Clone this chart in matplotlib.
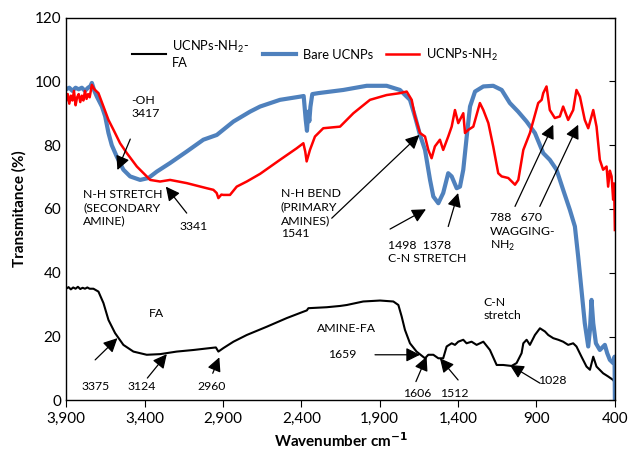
import matplotlib
matplotlib.use("Agg")
import matplotlib.pyplot as plt
from matplotlib.ticker import FuncFormatter

plt.rcParams['font.family'] = ['Lato', 'DejaVu Sans']
plt.rcParams['mathtext.fontset'] = 'custom'
plt.rcParams['mathtext.rm'] = 'Lato'

# UCNPs-NH2-FA (black)
black_wn = [3900, 3885, 3870, 3855, 3840, 3825, 3810, 3795, 3780, 3765, 3750, 3726, 3694, 3662,
            3630, 3588, 3535, 3471, 3386, 3301, 3195, 3088, 2982, 2945, 2929, 2897, 2833, 2748,
            2620, 2493, 2387, 2365, 2355, 2238, 2153, 2110, 2005, 1898, 1813, 1781, 1760, 1739,
            1707, 1665, 1611, 1590, 1558, 1526, 1495, 1473, 1441, 1420, 1399, 1367, 1346, 1314,
            1282, 1239, 1197, 1154, 1112, 1059, 1027, 995, 984, 963, 942, 910, 878, 846, 825,
            793, 761, 730, 698, 666, 645, 613, 581, 559, 538, 517, 475, 443, 411, 400]
black_t = [35, 35.5, 34.8, 35.4, 35, 35.6, 34.9, 35.3, 35, 35.4, 35, 35, 34.1, 30.5,
           25.2, 21.1, 17.4, 15.3, 14.3, 14.5, 15.3, 15.8, 16.4, 16.6, 15.3, 16.4, 18.4, 20.5,
           23.1, 25.8, 27.8, 28.2, 28.9, 29.2, 29.6, 29.9, 31, 31.3, 31, 29.9, 26.3, 22.1,
           17.9, 15.3, 13.2, 14.3, 14.3, 13.2, 13.2, 16.9, 17.9, 17.4, 18.4, 19, 17.9, 18.4,
           17.4, 18.4, 15.8, 11.1, 11.1, 10.8, 11.7, 14.8, 17.9, 19, 17.4, 20.5, 22.6, 21.6, 20.5,
           19.5, 19, 18.4, 17.4, 17.9, 16.9, 13.7, 10.6, 9.6, 13.7, 10.6, 8.5, 7.5, 6.4, 5.5]

# Bare UCNPs (blue)
blue_wn = [3900, 3880, 3860, 3840, 3820, 3800, 3780, 3760, 3745, 3736, 3720, 3704, 3672, 3651,
           3630, 3609, 3577, 3535, 3492, 3428, 3375, 3322, 3237, 3131, 3025, 2939, 2833, 2727,
           2663, 2536, 2408, 2385, 2372, 2364, 2356, 2349, 2342, 2330, 2292, 2132, 1983, 1856,
           1771, 1707, 1675, 1643, 1611, 1579, 1558, 1526, 1495, 1463, 1441, 1409, 1388, 1367,
           1345, 1324, 1292, 1239, 1176, 1122, 1070, 1017, 963, 910, 857, 815, 772, 730, 687,
           655, 634, 613, 592, 570, 559, 549, 538, 521, 496, 464, 449, 432, 411, 402, 400]
blue_t = [97.5, 98, 97, 98, 97.5, 98, 97, 98, 98.5, 99.5, 97, 95.2, 92.1, 89,
          83.8, 80, 76.4, 72.3, 70.2, 69.1, 69.7, 71.7, 74.4, 78, 81.7, 83.2, 87.4, 90.5,
          92.1, 94.2, 95.2, 95.4, 88, 84.5, 90.5, 87.5, 92, 96, 96.3, 97.3, 98.6, 98.6,
          97.3, 94.2, 89, 83.2, 78.5, 69.1, 63.9, 61.8, 65, 71.2, 70.2, 66.5, 67, 72.3,
          82.7, 92.1, 96.8, 98.4, 98.6, 97.3, 93.2, 90.5, 87.4, 83.8, 77.5, 75.4, 72.3, 66, 59.7,
          54.5, 45, 34.6, 24.2, 16.9, 22.1, 31.5, 24.2, 17.9, 15.8, 17.4, 14.8, 12.7, 11.7, 13.7, 0]

# UCNPs-NH2 (red)
red_wn = [3900, 3890, 3880, 3870, 3860, 3850, 3840, 3830, 3820, 3810, 3800, 3790, 3780, 3770,
          3760, 3750, 3736, 3720, 3694, 3662, 3630, 3598, 3556, 3513, 3449, 3386, 3364, 3301,
          3237, 3131, 3003, 2961, 2940, 2929, 2910, 2897, 2855, 2812, 2748, 2663, 2536, 2430,
          2387, 2375, 2366, 2345, 2313, 2260, 2153, 2068, 1962, 1856, 1771, 1728, 1696, 1675,
          1643, 1611, 1590, 1569, 1548, 1516, 1495, 1463, 1441, 1420, 1399, 1367, 1356, 1335,
          1303, 1261, 1239, 1207, 1176, 1144, 1122, 1080, 1037, 1016, 984, 942, 889, 867, 857,
          836, 815, 783, 751, 730, 698, 666, 645, 623, 592, 570, 538, 517, 496, 475, 453, 443,
          432, 421, 411, 405, 400]
red_t = [94, 96, 93, 95.5, 94, 97, 92.5, 95, 96, 93.5, 95.5, 94, 97, 94.5,
         96, 95, 98.9, 97.5, 96.3, 92.1, 87.9, 84.8, 80.6, 77.5, 73.3, 70.2, 69.1, 68.6,
         69.1, 68.1, 66.5, 66, 65, 63.4, 64.5, 64.4, 64.4, 67, 68.6, 71, 75.4, 79,
         80.6, 78, 74.9, 78.5, 82.7, 85.3, 85.8, 90, 94.2, 95.7, 96.3, 96.8, 94.2, 89,
         83.8, 82.7, 78.5, 75.9, 79.6, 81.7, 78.5, 82.7, 85.8, 91, 86.9, 90, 83.8, 84.8,
         85.8, 93.2, 91, 86.9, 79.6, 71.2, 70.2, 69.7, 67.6, 69.1, 78.5, 83.8, 93.2, 94.2, 96.3,
         98.4, 91, 88.5, 89, 92.1, 87.9, 91, 97.3, 95.2, 87.9, 85.3, 91, 85.8, 75.4, 72.3, 73.3, 67,
         72, 70.2, 62.9, 68, 53.4]

x_ticks = [3900, 3400, 2900, 2400, 1900, 1400, 900, 400]
y_ticks = [0, 20, 40, 60, 80, 100, 120]

# (text, x, y, ha)
labels = [
    ("-OH\n3417", 3486, 92, "left"),
    ("N-H STRETCH\n(SECONDARY\nAMINE)", 3792, 60.5, "left"),
    ("3341", 3090, 54.4, "center"),
    ("N-H BEND\n(PRIMARY\nAMINES)\n1541", 2531, 58.5, "left"),
    ("1498  1378\nC-N STRETCH", 1847, 46.4, "left"),
    ("788   670\nWAGGING-\nNH$_2$", 1197, 52.5, "left"),
    ("FA", 3326, 27.3, "center"),
    ("3375", 3715, 4.3, "center"),
    ("3124", 3417, 4.3, "center"),
    ("2960", 2971, 4.3, "center"),
    ("AMINE-FA", 2302, 22.6, "left"),
    ("1659", 2137, 14.3, "center"),
    ("1606", 1659, 2.3, "center"),
    ("1512", 1427, 2.3, "center"),
    ("C-N\nstretch", 1240, 28.6, "left"),
    ("1028", 889, 6.2, "left"),
]

# (start x, start y, tip x, tip y)
arrows = [
    (3491, 81.9, 3573, 72.2),
    (3131, 58.7, 3264, 67),
    (2206, 57.1, 1647, 83.2),
    (1834, 53.7, 1605, 59.9),
    (1463, 54.5, 1400, 65),
    (1037, 60.8, 793, 86.4),
    (879, 60.8, 634, 86.4),
    (3715, 12.7, 3573, 19.5),
    (3382, 7, 3258, 14.5),
    (2965, 8.5, 2923, 13.5),
    (1930, 14.3, 1643, 14.3),
    (1669, 5.9, 1601, 13.7),
    (1400, 6.4, 1516, 13.2),
    (878, 5.4, 1070, 11.1),
]

fig = plt.figure(figsize=(6.3, 4.55), dpi=100)
ax = fig.add_axes([0.105, 0.12, 0.871, 0.8415])

ax.plot(black_wn, black_t, color="black", lw=1.5, label="UCNPs-NH$_2$-\nFA")
ax.plot(blue_wn, blue_t, color="#4F81BD", lw=3.0, label="Bare UCNPs")
ax.plot(red_wn, red_t, color="#FF0000", lw=1.8, label="UCNPs-NH$_2$")

for txt, x, y, ha in labels:
    ax.text(x, y, txt, ha=ha, va="center", fontsize=8.8, linespacing=1.25)

for x0, y0, x1, y1 in arrows:
    ax.annotate("", xy=(x1, y1), xytext=(x0, y0),
                arrowprops=dict(arrowstyle="-|>,head_length=0.7,head_width=0.35",
                                color="black", lw=0.9, mutation_scale=12,
                                shrinkA=0, shrinkB=0))

ax.set_xlim(3900, 400)
ax.set_ylim(0, 120)
ax.set_xticks(x_ticks)
ax.set_yticks(y_ticks)
ax.xaxis.set_major_formatter(FuncFormatter(lambda v, p: f"{int(v):,}"))
ax.tick_params(axis="x", direction="out", length=5, labelsize=11)
ax.tick_params(axis="y", left=False, right=True, direction="in", length=4, labelsize=11)
for sp in ax.spines.values():
    sp.set_linewidth(1.0)

ax.set_xlabel("Wavenumber cm$^{\\mathbf{-1}}$", fontsize=11, fontweight="bold", labelpad=4)
ax.set_ylabel("Transmitance (%)", fontsize=11, fontweight="bold", labelpad=6)

ax.legend(loc="upper center", bbox_to_anchor=(0.454, 0.975), ncol=3, frameon=False,
          fontsize=9.3, handlelength=2.6, columnspacing=1.0, handletextpad=0.5)

fig.savefig("out.png", dpi=100)
